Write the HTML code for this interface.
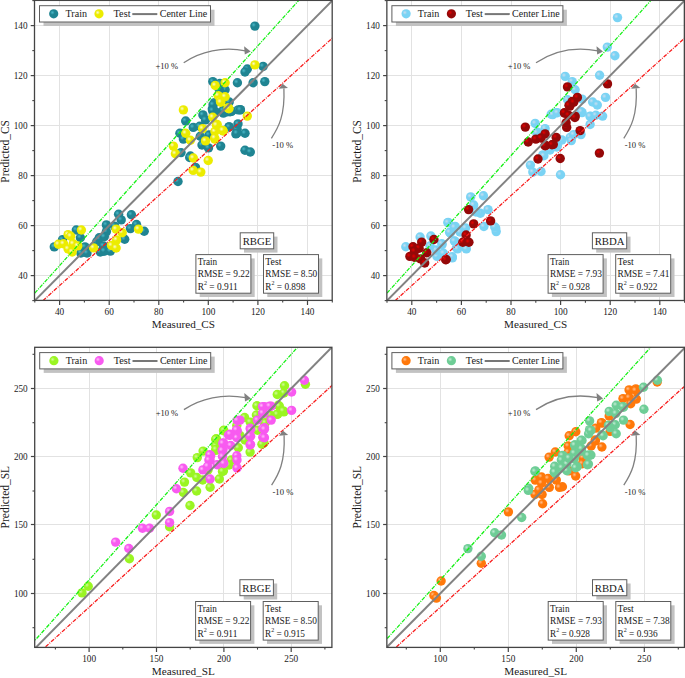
<!DOCTYPE html>
<html><head><meta charset="utf-8"><style>
html,body{margin:0;padding:0;background:#fff;}
svg{display:block;}
text{font-family:"Liberation Serif", serif;fill:#1a1a1a;}
</style></head><body>
<svg width="685" height="678" viewBox="0 0 685 678">
<defs><radialGradient id="g_teal" cx="0.36" cy="0.36" r="0.7" fx="0.36" fy="0.36"><stop offset="0" stop-color="#4bb8c8"/><stop offset="0.35" stop-color="#1f8492"/><stop offset="1" stop-color="#1f8492"/></radialGradient><radialGradient id="g_yellow" cx="0.36" cy="0.36" r="0.7" fx="0.36" fy="0.36"><stop offset="0" stop-color="#fbfbd0"/><stop offset="0.35" stop-color="#ecec00"/><stop offset="1" stop-color="#ecec00"/></radialGradient><radialGradient id="g_lblue" cx="0.36" cy="0.36" r="0.7" fx="0.36" fy="0.36"><stop offset="0" stop-color="#c8def0"/><stop offset="0.35" stop-color="#7ad3f4"/><stop offset="1" stop-color="#7ad3f4"/></radialGradient><radialGradient id="g_dred" cx="0.36" cy="0.36" r="0.7" fx="0.36" fy="0.36"><stop offset="0" stop-color="#e80000"/><stop offset="0.35" stop-color="#950808"/><stop offset="1" stop-color="#950808"/></radialGradient><radialGradient id="g_lgreen" cx="0.36" cy="0.36" r="0.7" fx="0.36" fy="0.36"><stop offset="0" stop-color="#d2fa9c"/><stop offset="0.35" stop-color="#9af522"/><stop offset="1" stop-color="#9af522"/></radialGradient><radialGradient id="g_magenta" cx="0.36" cy="0.36" r="0.7" fx="0.36" fy="0.36"><stop offset="0" stop-color="#ffc0fa"/><stop offset="0.35" stop-color="#f85af0"/><stop offset="1" stop-color="#f85af0"/></radialGradient><radialGradient id="g_orange" cx="0.36" cy="0.36" r="0.7" fx="0.36" fy="0.36"><stop offset="0" stop-color="#ffc090"/><stop offset="0.35" stop-color="#ff780a"/><stop offset="1" stop-color="#ff780a"/></radialGradient><radialGradient id="g_mint" cx="0.36" cy="0.36" r="0.7" fx="0.36" fy="0.36"><stop offset="0" stop-color="#c4ecd6"/><stop offset="0.35" stop-color="#6ecd96"/><stop offset="1" stop-color="#6ecd96"/></radialGradient></defs>
<rect width="685" height="678" fill="#fff"/>
<line x1="59.57" y1="0.4" x2="59.57" y2="300.4" stroke="#e2e2e2" stroke-width="1" shape-rendering="crispEdges"/>
<line x1="34.5" y1="275.60" x2="332.2" y2="275.60" stroke="#e2e2e2" stroke-width="1" shape-rendering="crispEdges"/>
<line x1="109.16" y1="0.4" x2="109.16" y2="300.4" stroke="#e2e2e2" stroke-width="1" shape-rendering="crispEdges"/>
<line x1="34.5" y1="225.60" x2="332.2" y2="225.60" stroke="#e2e2e2" stroke-width="1" shape-rendering="crispEdges"/>
<line x1="158.75" y1="0.4" x2="158.75" y2="300.4" stroke="#e2e2e2" stroke-width="1" shape-rendering="crispEdges"/>
<line x1="34.5" y1="175.60" x2="332.2" y2="175.60" stroke="#e2e2e2" stroke-width="1" shape-rendering="crispEdges"/>
<line x1="208.35" y1="0.4" x2="208.35" y2="300.4" stroke="#e2e2e2" stroke-width="1" shape-rendering="crispEdges"/>
<line x1="34.5" y1="125.60" x2="332.2" y2="125.60" stroke="#e2e2e2" stroke-width="1" shape-rendering="crispEdges"/>
<line x1="257.94" y1="0.4" x2="257.94" y2="300.4" stroke="#e2e2e2" stroke-width="1" shape-rendering="crispEdges"/>
<line x1="34.5" y1="75.60" x2="332.2" y2="75.60" stroke="#e2e2e2" stroke-width="1" shape-rendering="crispEdges"/>
<line x1="307.53" y1="0.4" x2="307.53" y2="300.4" stroke="#e2e2e2" stroke-width="1" shape-rendering="crispEdges"/>
<line x1="34.5" y1="25.60" x2="332.2" y2="25.60" stroke="#e2e2e2" stroke-width="1" shape-rendering="crispEdges"/>
<circle cx="254.9" cy="26.1" r="4.7" fill="url(#g_teal)"/>
<circle cx="263.1" cy="66.4" r="4.7" fill="url(#g_teal)"/>
<circle cx="247.3" cy="69.0" r="4.7" fill="url(#g_teal)"/>
<circle cx="245.0" cy="72.0" r="4.7" fill="url(#g_teal)"/>
<circle cx="212.8" cy="81.6" r="4.7" fill="url(#g_teal)"/>
<circle cx="219.9" cy="83.4" r="4.7" fill="url(#g_teal)"/>
<circle cx="237.4" cy="82.8" r="4.7" fill="url(#g_teal)"/>
<circle cx="253.1" cy="82.8" r="4.7" fill="url(#g_teal)"/>
<circle cx="264.8" cy="81.6" r="4.7" fill="url(#g_teal)"/>
<circle cx="225.1" cy="89.8" r="4.7" fill="url(#g_teal)"/>
<circle cx="219.3" cy="89.8" r="4.7" fill="url(#g_teal)"/>
<circle cx="214.6" cy="102.6" r="4.7" fill="url(#g_teal)"/>
<circle cx="229.2" cy="102.0" r="4.7" fill="url(#g_teal)"/>
<circle cx="212.3" cy="109.0" r="4.7" fill="url(#g_teal)"/>
<circle cx="215.2" cy="111.4" r="4.7" fill="url(#g_teal)"/>
<circle cx="231.5" cy="111.4" r="4.7" fill="url(#g_teal)"/>
<circle cx="223.4" cy="113.1" r="4.7" fill="url(#g_teal)"/>
<circle cx="240.3" cy="109.6" r="4.7" fill="url(#g_teal)"/>
<circle cx="202.9" cy="114.9" r="4.7" fill="url(#g_teal)"/>
<circle cx="185.7" cy="121.0" r="4.7" fill="url(#g_teal)"/>
<circle cx="205.5" cy="119.9" r="4.7" fill="url(#g_teal)"/>
<circle cx="193.3" cy="127.4" r="4.7" fill="url(#g_teal)"/>
<circle cx="199.7" cy="126.3" r="4.7" fill="url(#g_teal)"/>
<circle cx="179.9" cy="133.3" r="4.7" fill="url(#g_teal)"/>
<circle cx="183.4" cy="139.1" r="4.7" fill="url(#g_teal)"/>
<circle cx="200.3" cy="136.2" r="4.7" fill="url(#g_teal)"/>
<circle cx="209.0" cy="135.0" r="4.7" fill="url(#g_teal)"/>
<circle cx="202.0" cy="145.0" r="4.7" fill="url(#g_teal)"/>
<circle cx="208.5" cy="147.9" r="4.7" fill="url(#g_teal)"/>
<circle cx="220.7" cy="146.1" r="4.7" fill="url(#g_teal)"/>
<circle cx="228.9" cy="126.9" r="4.7" fill="url(#g_teal)"/>
<circle cx="237.1" cy="129.2" r="4.7" fill="url(#g_teal)"/>
<circle cx="235.9" cy="133.9" r="4.7" fill="url(#g_teal)"/>
<circle cx="181.0" cy="152.6" r="4.7" fill="url(#g_teal)"/>
<circle cx="190.4" cy="156.0" r="4.7" fill="url(#g_teal)"/>
<circle cx="213.1" cy="104.7" r="4.7" fill="url(#g_teal)"/>
<circle cx="230.1" cy="111.7" r="4.7" fill="url(#g_teal)"/>
<circle cx="223.1" cy="110.5" r="4.7" fill="url(#g_teal)"/>
<circle cx="212.6" cy="110.5" r="4.7" fill="url(#g_teal)"/>
<circle cx="238.2" cy="109.9" r="4.7" fill="url(#g_teal)"/>
<circle cx="240.4" cy="109.9" r="4.7" fill="url(#g_teal)"/>
<circle cx="238.0" cy="123.9" r="4.7" fill="url(#g_teal)"/>
<circle cx="229.3" cy="126.9" r="4.7" fill="url(#g_teal)"/>
<circle cx="236.9" cy="133.3" r="4.7" fill="url(#g_teal)"/>
<circle cx="245.0" cy="133.3" r="4.7" fill="url(#g_teal)"/>
<circle cx="245.0" cy="150.2" r="4.7" fill="url(#g_teal)"/>
<circle cx="250.3" cy="152.0" r="4.7" fill="url(#g_teal)"/>
<circle cx="227.5" cy="111.7" r="4.7" fill="url(#g_teal)"/>
<circle cx="189.7" cy="157.5" r="4.7" fill="url(#g_teal)"/>
<circle cx="195.5" cy="167.4" r="4.7" fill="url(#g_teal)"/>
<circle cx="178.0" cy="181.5" r="4.7" fill="url(#g_teal)"/>
<circle cx="54.3" cy="246.9" r="4.7" fill="url(#g_teal)"/>
<circle cx="62.5" cy="239.7" r="4.7" fill="url(#g_teal)"/>
<circle cx="76.3" cy="230.0" r="4.7" fill="url(#g_teal)"/>
<circle cx="80.4" cy="237.7" r="4.7" fill="url(#g_teal)"/>
<circle cx="85.0" cy="246.9" r="4.7" fill="url(#g_teal)"/>
<circle cx="80.9" cy="253.0" r="4.7" fill="url(#g_teal)"/>
<circle cx="87.0" cy="253.0" r="4.7" fill="url(#g_teal)"/>
<circle cx="99.3" cy="237.7" r="4.7" fill="url(#g_teal)"/>
<circle cx="96.7" cy="241.8" r="4.7" fill="url(#g_teal)"/>
<circle cx="103.4" cy="245.9" r="4.7" fill="url(#g_teal)"/>
<circle cx="106.4" cy="224.9" r="4.7" fill="url(#g_teal)"/>
<circle cx="106.4" cy="231.6" r="4.7" fill="url(#g_teal)"/>
<circle cx="103.4" cy="251.0" r="4.7" fill="url(#g_teal)"/>
<circle cx="100.3" cy="252.0" r="4.7" fill="url(#g_teal)"/>
<circle cx="118.6" cy="214.3" r="4.7" fill="url(#g_teal)"/>
<circle cx="131.4" cy="214.8" r="4.7" fill="url(#g_teal)"/>
<circle cx="121.2" cy="219.9" r="4.7" fill="url(#g_teal)"/>
<circle cx="114.5" cy="226.1" r="4.7" fill="url(#g_teal)"/>
<circle cx="130.4" cy="228.6" r="4.7" fill="url(#g_teal)"/>
<circle cx="136.5" cy="224.5" r="4.7" fill="url(#g_teal)"/>
<circle cx="144.2" cy="231.2" r="4.7" fill="url(#g_teal)"/>
<circle cx="124.7" cy="239.3" r="4.7" fill="url(#g_teal)"/>
<circle cx="104.3" cy="251.1" r="4.7" fill="url(#g_teal)"/>
<circle cx="99.2" cy="238.8" r="4.7" fill="url(#g_teal)"/>
<circle cx="104.3" cy="236.8" r="4.7" fill="url(#g_teal)"/>
<circle cx="110.4" cy="251.1" r="4.7" fill="url(#g_teal)"/>
<circle cx="254.9" cy="64.9" r="4.7" fill="url(#g_yellow)"/>
<circle cx="215.2" cy="85.5" r="4.7" fill="url(#g_yellow)"/>
<circle cx="225.1" cy="82.8" r="4.7" fill="url(#g_yellow)"/>
<circle cx="218.1" cy="95.6" r="4.7" fill="url(#g_yellow)"/>
<circle cx="225.1" cy="96.8" r="4.7" fill="url(#g_yellow)"/>
<circle cx="220.4" cy="100.9" r="4.7" fill="url(#g_yellow)"/>
<circle cx="228.0" cy="107.9" r="4.7" fill="url(#g_yellow)"/>
<circle cx="247.3" cy="116.1" r="4.7" fill="url(#g_yellow)"/>
<circle cx="212.8" cy="117.2" r="4.7" fill="url(#g_yellow)"/>
<circle cx="183.4" cy="109.9" r="4.7" fill="url(#g_yellow)"/>
<circle cx="202.6" cy="128.6" r="4.7" fill="url(#g_yellow)"/>
<circle cx="217.2" cy="124.5" r="4.7" fill="url(#g_yellow)"/>
<circle cx="223.1" cy="131.0" r="4.7" fill="url(#g_yellow)"/>
<circle cx="214.9" cy="131.5" r="4.7" fill="url(#g_yellow)"/>
<circle cx="185.7" cy="133.3" r="4.7" fill="url(#g_yellow)"/>
<circle cx="190.4" cy="140.3" r="4.7" fill="url(#g_yellow)"/>
<circle cx="205.5" cy="140.9" r="4.7" fill="url(#g_yellow)"/>
<circle cx="214.9" cy="139.1" r="4.7" fill="url(#g_yellow)"/>
<circle cx="173.4" cy="146.1" r="4.7" fill="url(#g_yellow)"/>
<circle cx="175.4" cy="153.8" r="4.7" fill="url(#g_yellow)"/>
<circle cx="193.3" cy="158.0" r="4.7" fill="url(#g_yellow)"/>
<circle cx="208.2" cy="160.5" r="4.7" fill="url(#g_yellow)"/>
<circle cx="220.7" cy="102.3" r="4.7" fill="url(#g_yellow)"/>
<circle cx="228.9" cy="108.8" r="4.7" fill="url(#g_yellow)"/>
<circle cx="216.4" cy="125.1" r="4.7" fill="url(#g_yellow)"/>
<circle cx="222.8" cy="130.4" r="4.7" fill="url(#g_yellow)"/>
<circle cx="214.7" cy="138.0" r="4.7" fill="url(#g_yellow)"/>
<circle cx="228.7" cy="108.2" r="4.7" fill="url(#g_yellow)"/>
<circle cx="193.2" cy="170.4" r="4.7" fill="url(#g_yellow)"/>
<circle cx="200.8" cy="172.1" r="4.7" fill="url(#g_yellow)"/>
<circle cx="58.4" cy="244.3" r="4.7" fill="url(#g_yellow)"/>
<circle cx="63.5" cy="243.8" r="4.7" fill="url(#g_yellow)"/>
<circle cx="68.1" cy="234.6" r="4.7" fill="url(#g_yellow)"/>
<circle cx="70.7" cy="236.2" r="4.7" fill="url(#g_yellow)"/>
<circle cx="73.2" cy="243.8" r="4.7" fill="url(#g_yellow)"/>
<circle cx="68.1" cy="248.9" r="4.7" fill="url(#g_yellow)"/>
<circle cx="72.2" cy="252.0" r="4.7" fill="url(#g_yellow)"/>
<circle cx="77.8" cy="245.9" r="4.7" fill="url(#g_yellow)"/>
<circle cx="81.4" cy="230.0" r="4.7" fill="url(#g_yellow)"/>
<circle cx="93.6" cy="247.9" r="4.7" fill="url(#g_yellow)"/>
<circle cx="116.1" cy="229.1" r="4.7" fill="url(#g_yellow)"/>
<circle cx="122.2" cy="232.7" r="4.7" fill="url(#g_yellow)"/>
<circle cx="138.5" cy="229.1" r="4.7" fill="url(#g_yellow)"/>
<circle cx="116.6" cy="239.9" r="4.7" fill="url(#g_yellow)"/>
<circle cx="111.5" cy="245.5" r="4.7" fill="url(#g_yellow)"/>
<circle cx="116.1" cy="248.0" r="4.7" fill="url(#g_yellow)"/>
<clipPath id="clip_tl"><rect x="34.5" y="0.4" width="297.7" height="300.0"/></clipPath>
<line clip-path="url(#clip_tl)" x1="10.0" y1="320.6" x2="321.1" y2="-24.4" stroke="#14f014" stroke-width="1.3" stroke-dasharray="4 1.2 1 1.2"/>
<line clip-path="url(#clip_tl)" x1="15.5" y1="325.6" x2="357.1" y2="15.6" stroke="#f81c1c" stroke-width="1.3" stroke-dasharray="4 1.2 1 1.2"/>
<line clip-path="url(#clip_tl)" x1="10.0" y1="325.6" x2="357.1" y2="-24.4" stroke="#828282" stroke-width="2"/>
<text x="0" y="0" transform="translate(155.50,68.60)" font-size="8.60" text-anchor="start" textLength="22.50" lengthAdjust="spacingAndGlyphs">+10 %</text>
<text x="0" y="0" transform="translate(272.30,148.30)" font-size="8.60" text-anchor="start" textLength="20.80" lengthAdjust="spacingAndGlyphs">-10 %</text>
<path d="M183.7,62.7 C200.5,51.4 222.5,46.4 245.5,50.8" fill="none" stroke="#808080" stroke-width="1.3"/>
<path d="M250.7,51.6 L244.1,46.2 L244.8,54.6 Z" fill="#808080"/>
<path d="M271.4,138.3 C278.5,127.4 285.1,115.4 283.9,88.4" fill="none" stroke="#808080" stroke-width="1.3"/>
<path d="M282.6,83.7 L278.8,88.8 L288.0,88.0 Z" fill="#808080"/>
<rect x="34.5" y="0.4" width="297.7" height="300.0" fill="none" stroke="#444444" stroke-width="1.3"/>
<line x1="59.6" y1="300.4" x2="59.6" y2="305.0" stroke="#444444" stroke-width="1.2"/>
<line x1="34.5" y1="275.6" x2="30.7" y2="275.6" stroke="#444444" stroke-width="1.2"/>
<text x="0" y="0" transform="translate(59.57,315.00)" font-size="9.30" text-anchor="middle">40</text>
<text x="0" y="0" transform="translate(27.50,278.90) scale(0.8696,1)" font-size="10.58" text-anchor="end">40</text>
<line x1="109.2" y1="300.4" x2="109.2" y2="305.0" stroke="#444444" stroke-width="1.2"/>
<line x1="34.5" y1="225.6" x2="30.7" y2="225.6" stroke="#444444" stroke-width="1.2"/>
<text x="0" y="0" transform="translate(109.16,315.00)" font-size="9.30" text-anchor="middle">60</text>
<text x="0" y="0" transform="translate(27.50,228.90) scale(0.8696,1)" font-size="10.58" text-anchor="end">60</text>
<line x1="158.8" y1="300.4" x2="158.8" y2="305.0" stroke="#444444" stroke-width="1.2"/>
<line x1="34.5" y1="175.6" x2="30.7" y2="175.6" stroke="#444444" stroke-width="1.2"/>
<text x="0" y="0" transform="translate(158.75,315.00)" font-size="9.30" text-anchor="middle">80</text>
<text x="0" y="0" transform="translate(27.50,178.90) scale(0.8696,1)" font-size="10.58" text-anchor="end">80</text>
<line x1="208.3" y1="300.4" x2="208.3" y2="305.0" stroke="#444444" stroke-width="1.2"/>
<line x1="34.5" y1="125.6" x2="30.7" y2="125.6" stroke="#444444" stroke-width="1.2"/>
<text x="0" y="0" transform="translate(208.35,315.00)" font-size="9.30" text-anchor="middle">100</text>
<text x="0" y="0" transform="translate(27.50,128.90) scale(0.8696,1)" font-size="10.58" text-anchor="end">100</text>
<line x1="257.9" y1="300.4" x2="257.9" y2="305.0" stroke="#444444" stroke-width="1.2"/>
<line x1="34.5" y1="75.6" x2="30.7" y2="75.6" stroke="#444444" stroke-width="1.2"/>
<text x="0" y="0" transform="translate(257.94,315.00)" font-size="9.30" text-anchor="middle">120</text>
<text x="0" y="0" transform="translate(27.50,78.90) scale(0.8696,1)" font-size="10.58" text-anchor="end">120</text>
<line x1="307.5" y1="300.4" x2="307.5" y2="305.0" stroke="#444444" stroke-width="1.2"/>
<line x1="34.5" y1="25.6" x2="30.7" y2="25.6" stroke="#444444" stroke-width="1.2"/>
<text x="0" y="0" transform="translate(307.53,315.00)" font-size="9.30" text-anchor="middle">140</text>
<text x="0" y="0" transform="translate(27.50,28.90) scale(0.8696,1)" font-size="10.58" text-anchor="end">140</text>
<line x1="34.8" y1="300.4" x2="34.8" y2="302.6" stroke="#444444" stroke-width="1.1"/>
<line x1="34.5" y1="300.6" x2="32.3" y2="300.6" stroke="#444444" stroke-width="1.1"/>
<line x1="84.4" y1="300.4" x2="84.4" y2="302.6" stroke="#444444" stroke-width="1.1"/>
<line x1="34.5" y1="250.6" x2="32.3" y2="250.6" stroke="#444444" stroke-width="1.1"/>
<line x1="134.0" y1="300.4" x2="134.0" y2="302.6" stroke="#444444" stroke-width="1.1"/>
<line x1="34.5" y1="200.6" x2="32.3" y2="200.6" stroke="#444444" stroke-width="1.1"/>
<line x1="183.6" y1="300.4" x2="183.6" y2="302.6" stroke="#444444" stroke-width="1.1"/>
<line x1="34.5" y1="150.6" x2="32.3" y2="150.6" stroke="#444444" stroke-width="1.1"/>
<line x1="233.1" y1="300.4" x2="233.1" y2="302.6" stroke="#444444" stroke-width="1.1"/>
<line x1="34.5" y1="100.6" x2="32.3" y2="100.6" stroke="#444444" stroke-width="1.1"/>
<line x1="282.7" y1="300.4" x2="282.7" y2="302.6" stroke="#444444" stroke-width="1.1"/>
<line x1="34.5" y1="50.6" x2="32.3" y2="50.6" stroke="#444444" stroke-width="1.1"/>
<line x1="332.3" y1="300.4" x2="332.3" y2="302.6" stroke="#444444" stroke-width="1.1"/>
<line x1="34.5" y1="0.6" x2="32.3" y2="0.6" stroke="#444444" stroke-width="1.1"/>
<text x="0" y="0" transform="translate(183.35,328.20)" font-size="11.00" text-anchor="middle" textLength="63.00" lengthAdjust="spacingAndGlyphs">Measured_CS</text>
<text x="0" y="0" transform="translate(9.00,151.40) rotate(-90) scale(0.9259,1)" font-size="11.88" text-anchor="middle" textLength="67.50" lengthAdjust="spacingAndGlyphs">Predicted_CS</text>
<rect x="43.5" y="9.7" width="171" height="16.3" fill="#c2c2c2"/>
<rect x="39.5" y="5.7" width="171" height="16.3" fill="#fff" stroke="#5e5e5e" stroke-width="1"/>
<circle cx="53.7" cy="13.8" r="4.6" fill="url(#g_teal)"/>
<text x="0" y="0" transform="translate(65.50,17.00) scale(0.9091,1)" font-size="11.33" text-anchor="start" textLength="23.65" lengthAdjust="spacingAndGlyphs">Train</text>
<circle cx="99.0" cy="13.8" r="4.6" fill="url(#g_yellow)"/>
<text x="0" y="0" transform="translate(113.50,17.00) scale(0.9091,1)" font-size="11.33" text-anchor="start" textLength="18.70" lengthAdjust="spacingAndGlyphs">Test</text>
<line x1="132.3" y1="14.1" x2="157.3" y2="14.1" stroke="#777777" stroke-width="2"/>
<text x="0" y="0" transform="translate(159.70,17.00) scale(0.9091,1)" font-size="11.33" text-anchor="start" textLength="52.36" lengthAdjust="spacingAndGlyphs">Center Line</text>
<rect x="244.0" y="236.6" width="33.5" height="16" fill="#c2c2c2"/>
<rect x="240.2" y="232.8" width="33.5" height="16" fill="#fff" stroke="#5e5e5e" stroke-width="1"/>
<text x="0" y="0" transform="translate(256.95,244.60) scale(0.9524,1)" font-size="11.23" text-anchor="middle" textLength="30.03" lengthAdjust="spacingAndGlyphs">RBGE</text>
<rect x="199.7" y="258.4" width="55" height="38.6" fill="#c2c2c2"/>
<rect x="195.9" y="254.6" width="55" height="38.6" fill="#fff" stroke="#5e5e5e" stroke-width="1"/>
<text x="0" y="0" transform="translate(197.70,265.40)" font-size="9.60" text-anchor="start" textLength="19.50" lengthAdjust="spacingAndGlyphs">Train</text>
<text x="0" y="0" transform="translate(197.70,277.00)" font-size="9.60" text-anchor="start" textLength="52.00" lengthAdjust="spacingAndGlyphs">RMSE = 9.22</text>
<text x="197.70" y="289.80" font-size="9.6" textLength="40" lengthAdjust="spacingAndGlyphs">R<tspan font-size="6.2" dy="-4.6">2</tspan><tspan dy="4.6"> = 0.911</tspan></text>
<rect x="267.3" y="258.4" width="55" height="38.6" fill="#c2c2c2"/>
<rect x="263.5" y="254.6" width="55" height="38.6" fill="#fff" stroke="#5e5e5e" stroke-width="1"/>
<text x="0" y="0" transform="translate(265.30,265.40)" font-size="9.60" text-anchor="start" textLength="16.20" lengthAdjust="spacingAndGlyphs">Test</text>
<text x="0" y="0" transform="translate(265.30,277.00)" font-size="9.60" text-anchor="start" textLength="52.00" lengthAdjust="spacingAndGlyphs">RMSE = 8.50</text>
<text x="265.30" y="289.80" font-size="9.6" textLength="40" lengthAdjust="spacingAndGlyphs">R<tspan font-size="6.2" dy="-4.6">2</tspan><tspan dy="4.6"> = 0.898</tspan></text>
<line x1="411.82" y1="0.4" x2="411.82" y2="300.5" stroke="#e2e2e2" stroke-width="1" shape-rendering="crispEdges"/>
<line x1="386.9" y1="275.60" x2="684.4" y2="275.60" stroke="#e2e2e2" stroke-width="1" shape-rendering="crispEdges"/>
<line x1="461.41" y1="0.4" x2="461.41" y2="300.5" stroke="#e2e2e2" stroke-width="1" shape-rendering="crispEdges"/>
<line x1="386.9" y1="225.60" x2="684.4" y2="225.60" stroke="#e2e2e2" stroke-width="1" shape-rendering="crispEdges"/>
<line x1="511.00" y1="0.4" x2="511.00" y2="300.5" stroke="#e2e2e2" stroke-width="1" shape-rendering="crispEdges"/>
<line x1="386.9" y1="175.60" x2="684.4" y2="175.60" stroke="#e2e2e2" stroke-width="1" shape-rendering="crispEdges"/>
<line x1="560.60" y1="0.4" x2="560.60" y2="300.5" stroke="#e2e2e2" stroke-width="1" shape-rendering="crispEdges"/>
<line x1="386.9" y1="125.60" x2="684.4" y2="125.60" stroke="#e2e2e2" stroke-width="1" shape-rendering="crispEdges"/>
<line x1="610.19" y1="0.4" x2="610.19" y2="300.5" stroke="#e2e2e2" stroke-width="1" shape-rendering="crispEdges"/>
<line x1="386.9" y1="75.60" x2="684.4" y2="75.60" stroke="#e2e2e2" stroke-width="1" shape-rendering="crispEdges"/>
<line x1="659.78" y1="0.4" x2="659.78" y2="300.5" stroke="#e2e2e2" stroke-width="1" shape-rendering="crispEdges"/>
<line x1="386.9" y1="25.60" x2="684.4" y2="25.60" stroke="#e2e2e2" stroke-width="1" shape-rendering="crispEdges"/>
<circle cx="617.5" cy="17.6" r="4.7" fill="url(#g_lblue)"/>
<circle cx="607.3" cy="47.1" r="4.7" fill="url(#g_lblue)"/>
<circle cx="614.9" cy="55.8" r="4.7" fill="url(#g_lblue)"/>
<circle cx="565.2" cy="76.4" r="4.7" fill="url(#g_lblue)"/>
<circle cx="572.2" cy="81.6" r="4.7" fill="url(#g_lblue)"/>
<circle cx="575.1" cy="89.8" r="4.7" fill="url(#g_lblue)"/>
<circle cx="599.6" cy="75.2" r="4.7" fill="url(#g_lblue)"/>
<circle cx="605.5" cy="97.4" r="4.7" fill="url(#g_lblue)"/>
<circle cx="567.5" cy="99.7" r="4.7" fill="url(#g_lblue)"/>
<circle cx="592.6" cy="102.0" r="4.7" fill="url(#g_lblue)"/>
<circle cx="597.3" cy="105.0" r="4.7" fill="url(#g_lblue)"/>
<circle cx="582.1" cy="99.1" r="4.7" fill="url(#g_lblue)"/>
<circle cx="582.1" cy="112.6" r="4.7" fill="url(#g_lblue)"/>
<circle cx="555.8" cy="112.6" r="4.7" fill="url(#g_lblue)"/>
<circle cx="551.2" cy="114.3" r="4.7" fill="url(#g_lblue)"/>
<circle cx="590.3" cy="116.1" r="4.7" fill="url(#g_lblue)"/>
<circle cx="602.6" cy="116.1" r="4.7" fill="url(#g_lblue)"/>
<circle cx="535.2" cy="123.4" r="4.7" fill="url(#g_lblue)"/>
<circle cx="552.7" cy="114.6" r="4.7" fill="url(#g_lblue)"/>
<circle cx="557.4" cy="112.8" r="4.7" fill="url(#g_lblue)"/>
<circle cx="581.3" cy="111.7" r="4.7" fill="url(#g_lblue)"/>
<circle cx="590.1" cy="116.4" r="4.7" fill="url(#g_lblue)"/>
<circle cx="590.1" cy="124.5" r="4.7" fill="url(#g_lblue)"/>
<circle cx="595.9" cy="115.2" r="4.7" fill="url(#g_lblue)"/>
<circle cx="570.2" cy="137.4" r="4.7" fill="url(#g_lblue)"/>
<circle cx="573.7" cy="134.6" r="4.7" fill="url(#g_lblue)"/>
<circle cx="581.0" cy="134.6" r="4.7" fill="url(#g_lblue)"/>
<circle cx="545.1" cy="128.6" r="4.7" fill="url(#g_lblue)"/>
<circle cx="537.5" cy="132.1" r="4.7" fill="url(#g_lblue)"/>
<circle cx="557.4" cy="145.5" r="4.7" fill="url(#g_lblue)"/>
<circle cx="542.8" cy="154.9" r="4.7" fill="url(#g_lblue)"/>
<circle cx="543.9" cy="155.8" r="4.7" fill="url(#g_lblue)"/>
<circle cx="530.4" cy="165.1" r="4.7" fill="url(#g_lblue)"/>
<circle cx="532.8" cy="172.1" r="4.7" fill="url(#g_lblue)"/>
<circle cx="541.0" cy="171.5" r="4.7" fill="url(#g_lblue)"/>
<circle cx="560.5" cy="174.8" r="4.7" fill="url(#g_lblue)"/>
<circle cx="556.7" cy="147.0" r="4.7" fill="url(#g_lblue)"/>
<circle cx="571.3" cy="140.6" r="4.7" fill="url(#g_lblue)"/>
<circle cx="536.8" cy="132.9" r="4.7" fill="url(#g_lblue)"/>
<circle cx="562.0" cy="140.0" r="4.7" fill="url(#g_lblue)"/>
<circle cx="550.0" cy="150.0" r="4.7" fill="url(#g_lblue)"/>
<circle cx="470.7" cy="196.9" r="4.7" fill="url(#g_lblue)"/>
<circle cx="483.4" cy="195.8" r="4.7" fill="url(#g_lblue)"/>
<circle cx="473.7" cy="205.0" r="4.7" fill="url(#g_lblue)"/>
<circle cx="480.4" cy="213.2" r="4.7" fill="url(#g_lblue)"/>
<circle cx="488.0" cy="209.6" r="4.7" fill="url(#g_lblue)"/>
<circle cx="476.0" cy="212.0" r="4.7" fill="url(#g_lblue)"/>
<circle cx="483.9" cy="226.5" r="4.7" fill="url(#g_lblue)"/>
<circle cx="495.7" cy="228.0" r="4.7" fill="url(#g_lblue)"/>
<circle cx="496.2" cy="231.6" r="4.7" fill="url(#g_lblue)"/>
<circle cx="448.2" cy="222.4" r="4.7" fill="url(#g_lblue)"/>
<circle cx="455.3" cy="226.5" r="4.7" fill="url(#g_lblue)"/>
<circle cx="450.2" cy="232.6" r="4.7" fill="url(#g_lblue)"/>
<circle cx="465.5" cy="228.0" r="4.7" fill="url(#g_lblue)"/>
<circle cx="460.0" cy="232.0" r="4.7" fill="url(#g_lblue)"/>
<circle cx="405.8" cy="246.7" r="4.7" fill="url(#g_lblue)"/>
<circle cx="420.1" cy="237.0" r="4.7" fill="url(#g_lblue)"/>
<circle cx="430.9" cy="236.0" r="4.7" fill="url(#g_lblue)"/>
<circle cx="442.1" cy="244.6" r="4.7" fill="url(#g_lblue)"/>
<circle cx="437.0" cy="256.4" r="4.7" fill="url(#g_lblue)"/>
<circle cx="452.3" cy="257.9" r="4.7" fill="url(#g_lblue)"/>
<circle cx="436.0" cy="250.0" r="4.7" fill="url(#g_lblue)"/>
<circle cx="430.0" cy="246.0" r="4.7" fill="url(#g_lblue)"/>
<circle cx="454.4" cy="227.3" r="4.7" fill="url(#g_lblue)"/>
<circle cx="450.3" cy="232.9" r="4.7" fill="url(#g_lblue)"/>
<circle cx="454.9" cy="241.1" r="4.7" fill="url(#g_lblue)"/>
<circle cx="456.4" cy="247.7" r="4.7" fill="url(#g_lblue)"/>
<circle cx="494.7" cy="227.0" r="4.7" fill="url(#g_lblue)"/>
<circle cx="449.6" cy="232.3" r="4.7" fill="url(#g_lblue)"/>
<circle cx="447.9" cy="222.6" r="4.7" fill="url(#g_lblue)"/>
<circle cx="457.5" cy="248.9" r="4.7" fill="url(#g_lblue)"/>
<circle cx="466.3" cy="248.9" r="4.7" fill="url(#g_lblue)"/>
<circle cx="441.8" cy="243.6" r="4.7" fill="url(#g_lblue)"/>
<circle cx="443.5" cy="253.3" r="4.7" fill="url(#g_lblue)"/>
<circle cx="452.3" cy="256.8" r="4.7" fill="url(#g_lblue)"/>
<circle cx="454.4" cy="241.0" r="4.7" fill="url(#g_lblue)"/>
<circle cx="567.5" cy="86.9" r="4.7" fill="url(#g_dred)"/>
<circle cx="607.5" cy="83.9" r="4.7" fill="url(#g_dred)"/>
<circle cx="577.4" cy="97.4" r="4.7" fill="url(#g_dred)"/>
<circle cx="572.2" cy="101.5" r="4.7" fill="url(#g_dred)"/>
<circle cx="569.9" cy="106.1" r="4.7" fill="url(#g_dred)"/>
<circle cx="564.6" cy="113.1" r="4.7" fill="url(#g_dred)"/>
<circle cx="575.1" cy="116.1" r="4.7" fill="url(#g_dred)"/>
<circle cx="525.3" cy="127.1" r="4.7" fill="url(#g_dred)"/>
<circle cx="564.4" cy="112.8" r="4.7" fill="url(#g_dred)"/>
<circle cx="569.0" cy="105.3" r="4.7" fill="url(#g_dred)"/>
<circle cx="573.7" cy="102.3" r="4.7" fill="url(#g_dred)"/>
<circle cx="568.5" cy="115.2" r="4.7" fill="url(#g_dred)"/>
<circle cx="574.9" cy="117.5" r="4.7" fill="url(#g_dred)"/>
<circle cx="566.7" cy="127.4" r="4.7" fill="url(#g_dred)"/>
<circle cx="566.1" cy="122.8" r="4.7" fill="url(#g_dred)"/>
<circle cx="580.1" cy="130.6" r="4.7" fill="url(#g_dred)"/>
<circle cx="545.1" cy="133.9" r="4.7" fill="url(#g_dred)"/>
<circle cx="535.8" cy="139.1" r="4.7" fill="url(#g_dred)"/>
<circle cx="528.2" cy="142.0" r="4.7" fill="url(#g_dred)"/>
<circle cx="541.0" cy="138.0" r="4.7" fill="url(#g_dred)"/>
<circle cx="545.7" cy="145.5" r="4.7" fill="url(#g_dred)"/>
<circle cx="553.3" cy="144.4" r="4.7" fill="url(#g_dred)"/>
<circle cx="556.2" cy="137.4" r="4.7" fill="url(#g_dred)"/>
<circle cx="552.0" cy="144.7" r="4.7" fill="url(#g_dred)"/>
<circle cx="545.0" cy="145.8" r="4.7" fill="url(#g_dred)"/>
<circle cx="538.0" cy="159.0" r="4.7" fill="url(#g_dred)"/>
<circle cx="560.2" cy="158.5" r="4.7" fill="url(#g_dred)"/>
<circle cx="599.4" cy="153.1" r="4.7" fill="url(#g_dred)"/>
<circle cx="468.6" cy="209.6" r="4.7" fill="url(#g_dred)"/>
<circle cx="490.6" cy="220.9" r="4.7" fill="url(#g_dred)"/>
<circle cx="473.7" cy="223.9" r="4.7" fill="url(#g_dred)"/>
<circle cx="466.1" cy="235.0" r="4.7" fill="url(#g_dred)"/>
<circle cx="462.8" cy="242.3" r="4.7" fill="url(#g_dred)"/>
<circle cx="468.9" cy="242.3" r="4.7" fill="url(#g_dred)"/>
<circle cx="433.9" cy="239.5" r="4.7" fill="url(#g_dred)"/>
<circle cx="421.7" cy="242.1" r="4.7" fill="url(#g_dred)"/>
<circle cx="413.0" cy="246.7" r="4.7" fill="url(#g_dred)"/>
<circle cx="419.1" cy="248.2" r="4.7" fill="url(#g_dred)"/>
<circle cx="414.5" cy="251.3" r="4.7" fill="url(#g_dred)"/>
<circle cx="409.9" cy="256.4" r="4.7" fill="url(#g_dred)"/>
<circle cx="415.0" cy="257.4" r="4.7" fill="url(#g_dred)"/>
<circle cx="420.7" cy="258.9" r="4.7" fill="url(#g_dred)"/>
<circle cx="424.7" cy="263.0" r="4.7" fill="url(#g_dred)"/>
<circle cx="426.8" cy="252.8" r="4.7" fill="url(#g_dred)"/>
<circle cx="446.2" cy="259.5" r="4.7" fill="url(#g_dred)"/>
<circle cx="445.7" cy="259.8" r="4.7" fill="url(#g_dred)"/>
<clipPath id="clip_tr"><rect x="386.85" y="0.4" width="297.54999999999995" height="300.1"/></clipPath>
<line clip-path="url(#clip_tr)" x1="362.2" y1="320.6" x2="673.3" y2="-24.4" stroke="#14f014" stroke-width="1.3" stroke-dasharray="4 1.2 1 1.2"/>
<line clip-path="url(#clip_tr)" x1="367.7" y1="325.6" x2="709.4" y2="15.6" stroke="#f81c1c" stroke-width="1.3" stroke-dasharray="4 1.2 1 1.2"/>
<line clip-path="url(#clip_tr)" x1="362.2" y1="325.6" x2="709.4" y2="-24.4" stroke="#828282" stroke-width="2"/>
<text x="0" y="0" transform="translate(507.85,68.60)" font-size="8.60" text-anchor="start" textLength="22.50" lengthAdjust="spacingAndGlyphs">+10 %</text>
<text x="0" y="0" transform="translate(624.65,148.30)" font-size="8.60" text-anchor="start" textLength="20.80" lengthAdjust="spacingAndGlyphs">-10 %</text>
<path d="M536.0,62.7 C552.9,51.4 574.9,46.4 597.9,50.8" fill="none" stroke="#808080" stroke-width="1.3"/>
<path d="M603.0,51.6 L596.5,46.2 L597.2,54.6 Z" fill="#808080"/>
<path d="M623.8,138.3 C630.9,127.4 637.5,115.4 636.2,88.4" fill="none" stroke="#808080" stroke-width="1.3"/>
<path d="M635.0,83.7 L631.2,88.8 L640.4,88.0 Z" fill="#808080"/>
<rect x="386.85" y="0.4" width="297.5" height="300.1" fill="none" stroke="#444444" stroke-width="1.3"/>
<line x1="411.8" y1="300.5" x2="411.8" y2="305.1" stroke="#444444" stroke-width="1.2"/>
<line x1="386.9" y1="275.6" x2="383.1" y2="275.6" stroke="#444444" stroke-width="1.2"/>
<text x="0" y="0" transform="translate(411.82,315.10)" font-size="9.30" text-anchor="middle">40</text>
<text x="0" y="0" transform="translate(379.85,278.90) scale(0.8696,1)" font-size="10.58" text-anchor="end">40</text>
<line x1="461.4" y1="300.5" x2="461.4" y2="305.1" stroke="#444444" stroke-width="1.2"/>
<line x1="386.9" y1="225.6" x2="383.1" y2="225.6" stroke="#444444" stroke-width="1.2"/>
<text x="0" y="0" transform="translate(461.41,315.10)" font-size="9.30" text-anchor="middle">60</text>
<text x="0" y="0" transform="translate(379.85,228.90) scale(0.8696,1)" font-size="10.58" text-anchor="end">60</text>
<line x1="511.0" y1="300.5" x2="511.0" y2="305.1" stroke="#444444" stroke-width="1.2"/>
<line x1="386.9" y1="175.6" x2="383.1" y2="175.6" stroke="#444444" stroke-width="1.2"/>
<text x="0" y="0" transform="translate(511.00,315.10)" font-size="9.30" text-anchor="middle">80</text>
<text x="0" y="0" transform="translate(379.85,178.90) scale(0.8696,1)" font-size="10.58" text-anchor="end">80</text>
<line x1="560.6" y1="300.5" x2="560.6" y2="305.1" stroke="#444444" stroke-width="1.2"/>
<line x1="386.9" y1="125.6" x2="383.1" y2="125.6" stroke="#444444" stroke-width="1.2"/>
<text x="0" y="0" transform="translate(560.60,315.10)" font-size="9.30" text-anchor="middle">100</text>
<text x="0" y="0" transform="translate(379.85,128.90) scale(0.8696,1)" font-size="10.58" text-anchor="end">100</text>
<line x1="610.2" y1="300.5" x2="610.2" y2="305.1" stroke="#444444" stroke-width="1.2"/>
<line x1="386.9" y1="75.6" x2="383.1" y2="75.6" stroke="#444444" stroke-width="1.2"/>
<text x="0" y="0" transform="translate(610.19,315.10)" font-size="9.30" text-anchor="middle">120</text>
<text x="0" y="0" transform="translate(379.85,78.90) scale(0.8696,1)" font-size="10.58" text-anchor="end">120</text>
<line x1="659.8" y1="300.5" x2="659.8" y2="305.1" stroke="#444444" stroke-width="1.2"/>
<line x1="386.9" y1="25.6" x2="383.1" y2="25.6" stroke="#444444" stroke-width="1.2"/>
<text x="0" y="0" transform="translate(659.78,315.10)" font-size="9.30" text-anchor="middle">140</text>
<text x="0" y="0" transform="translate(379.85,28.90) scale(0.8696,1)" font-size="10.58" text-anchor="end">140</text>
<line x1="387.0" y1="300.5" x2="387.0" y2="302.7" stroke="#444444" stroke-width="1.1"/>
<line x1="386.9" y1="300.6" x2="384.7" y2="300.6" stroke="#444444" stroke-width="1.1"/>
<line x1="436.6" y1="300.5" x2="436.6" y2="302.7" stroke="#444444" stroke-width="1.1"/>
<line x1="386.9" y1="250.6" x2="384.7" y2="250.6" stroke="#444444" stroke-width="1.1"/>
<line x1="486.2" y1="300.5" x2="486.2" y2="302.7" stroke="#444444" stroke-width="1.1"/>
<line x1="386.9" y1="200.6" x2="384.7" y2="200.6" stroke="#444444" stroke-width="1.1"/>
<line x1="535.8" y1="300.5" x2="535.8" y2="302.7" stroke="#444444" stroke-width="1.1"/>
<line x1="386.9" y1="150.6" x2="384.7" y2="150.6" stroke="#444444" stroke-width="1.1"/>
<line x1="585.4" y1="300.5" x2="585.4" y2="302.7" stroke="#444444" stroke-width="1.1"/>
<line x1="386.9" y1="100.6" x2="384.7" y2="100.6" stroke="#444444" stroke-width="1.1"/>
<line x1="635.0" y1="300.5" x2="635.0" y2="302.7" stroke="#444444" stroke-width="1.1"/>
<line x1="386.9" y1="50.6" x2="384.7" y2="50.6" stroke="#444444" stroke-width="1.1"/>
<line x1="684.6" y1="300.5" x2="684.6" y2="302.7" stroke="#444444" stroke-width="1.1"/>
<line x1="386.9" y1="0.6" x2="384.7" y2="0.6" stroke="#444444" stroke-width="1.1"/>
<text x="0" y="0" transform="translate(535.62,328.30)" font-size="11.00" text-anchor="middle" textLength="63.00" lengthAdjust="spacingAndGlyphs">Measured_CS</text>
<text x="0" y="0" transform="translate(361.35,151.45) rotate(-90) scale(0.9259,1)" font-size="11.88" text-anchor="middle" textLength="67.50" lengthAdjust="spacingAndGlyphs">Predicted_CS</text>
<rect x="395.9" y="9.7" width="171" height="16.3" fill="#c2c2c2"/>
<rect x="391.9" y="5.7" width="171" height="16.3" fill="#fff" stroke="#5e5e5e" stroke-width="1"/>
<circle cx="406.1" cy="13.8" r="4.6" fill="url(#g_lblue)"/>
<text x="0" y="0" transform="translate(417.85,17.00) scale(0.9091,1)" font-size="11.33" text-anchor="start" textLength="23.65" lengthAdjust="spacingAndGlyphs">Train</text>
<circle cx="451.4" cy="13.8" r="4.6" fill="url(#g_dred)"/>
<text x="0" y="0" transform="translate(465.85,17.00) scale(0.9091,1)" font-size="11.33" text-anchor="start" textLength="18.70" lengthAdjust="spacingAndGlyphs">Test</text>
<line x1="484.7" y1="14.1" x2="509.7" y2="14.1" stroke="#777777" stroke-width="2"/>
<text x="0" y="0" transform="translate(512.05,17.00) scale(0.9091,1)" font-size="11.33" text-anchor="start" textLength="52.36" lengthAdjust="spacingAndGlyphs">Center Line</text>
<rect x="596.2" y="236.6" width="34.3" height="16" fill="#c2c2c2"/>
<rect x="592.4" y="232.8" width="34.3" height="16" fill="#fff" stroke="#5e5e5e" stroke-width="1"/>
<text x="0" y="0" transform="translate(609.55,244.60) scale(0.9524,1)" font-size="11.23" text-anchor="middle" textLength="31.29" lengthAdjust="spacingAndGlyphs">RBDA</text>
<rect x="551.9" y="258.4" width="55" height="38.6" fill="#c2c2c2"/>
<rect x="548.1" y="254.6" width="55" height="38.6" fill="#fff" stroke="#5e5e5e" stroke-width="1"/>
<text x="0" y="0" transform="translate(549.90,265.40)" font-size="9.60" text-anchor="start" textLength="19.50" lengthAdjust="spacingAndGlyphs">Train</text>
<text x="0" y="0" transform="translate(549.90,277.00)" font-size="9.60" text-anchor="start" textLength="52.00" lengthAdjust="spacingAndGlyphs">RMSE = 7.93</text>
<text x="549.90" y="289.80" font-size="9.6" textLength="40" lengthAdjust="spacingAndGlyphs">R<tspan font-size="6.2" dy="-4.6">2</tspan><tspan dy="4.6"> = 0.928</tspan></text>
<rect x="619.5" y="258.4" width="55" height="38.6" fill="#c2c2c2"/>
<rect x="615.7" y="254.6" width="55" height="38.6" fill="#fff" stroke="#5e5e5e" stroke-width="1"/>
<text x="0" y="0" transform="translate(617.50,265.40)" font-size="9.60" text-anchor="start" textLength="16.20" lengthAdjust="spacingAndGlyphs">Test</text>
<text x="0" y="0" transform="translate(617.50,277.00)" font-size="9.60" text-anchor="start" textLength="52.00" lengthAdjust="spacingAndGlyphs">RMSE = 7.41</text>
<text x="617.50" y="289.80" font-size="9.6" textLength="40" lengthAdjust="spacingAndGlyphs">R<tspan font-size="6.2" dy="-4.6">2</tspan><tspan dy="4.6"> = 0.922</tspan></text>
<line x1="89.12" y1="347.3" x2="89.12" y2="647.4" stroke="#e2e2e2" stroke-width="1" shape-rendering="crispEdges"/>
<line x1="34.7" y1="593.50" x2="331.9" y2="593.50" stroke="#e2e2e2" stroke-width="1" shape-rendering="crispEdges"/>
<line x1="156.49" y1="347.3" x2="156.49" y2="647.4" stroke="#e2e2e2" stroke-width="1" shape-rendering="crispEdges"/>
<line x1="34.7" y1="524.50" x2="331.9" y2="524.50" stroke="#e2e2e2" stroke-width="1" shape-rendering="crispEdges"/>
<line x1="223.86" y1="347.3" x2="223.86" y2="647.4" stroke="#e2e2e2" stroke-width="1" shape-rendering="crispEdges"/>
<line x1="34.7" y1="456.50" x2="331.9" y2="456.50" stroke="#e2e2e2" stroke-width="1" shape-rendering="crispEdges"/>
<line x1="291.23" y1="347.3" x2="291.23" y2="647.4" stroke="#e2e2e2" stroke-width="1" shape-rendering="crispEdges"/>
<line x1="34.7" y1="388.50" x2="331.9" y2="388.50" stroke="#e2e2e2" stroke-width="1" shape-rendering="crispEdges"/>
<circle cx="284.5" cy="385.8" r="4.7" fill="url(#g_lgreen)"/>
<circle cx="283.9" cy="393.0" r="4.7" fill="url(#g_lgreen)"/>
<circle cx="277.3" cy="394.5" r="4.7" fill="url(#g_lgreen)"/>
<circle cx="305.4" cy="384.3" r="4.7" fill="url(#g_lgreen)"/>
<circle cx="256.9" cy="405.8" r="4.7" fill="url(#g_lgreen)"/>
<circle cx="278.3" cy="405.3" r="4.7" fill="url(#g_lgreen)"/>
<circle cx="277.8" cy="413.9" r="4.7" fill="url(#g_lgreen)"/>
<circle cx="283.9" cy="411.9" r="4.7" fill="url(#g_lgreen)"/>
<circle cx="256.4" cy="415.0" r="4.7" fill="url(#g_lgreen)"/>
<circle cx="244.6" cy="417.5" r="4.7" fill="url(#g_lgreen)"/>
<circle cx="250.2" cy="422.1" r="4.7" fill="url(#g_lgreen)"/>
<circle cx="264.5" cy="423.1" r="4.7" fill="url(#g_lgreen)"/>
<circle cx="265.3" cy="422.8" r="4.7" fill="url(#g_lgreen)"/>
<circle cx="263.5" cy="442.9" r="4.7" fill="url(#g_lgreen)"/>
<circle cx="279.3" cy="406.1" r="4.7" fill="url(#g_lgreen)"/>
<circle cx="277.1" cy="414.4" r="4.7" fill="url(#g_lgreen)"/>
<circle cx="283.2" cy="410.9" r="4.7" fill="url(#g_lgreen)"/>
<circle cx="223.5" cy="430.7" r="4.7" fill="url(#g_lgreen)"/>
<circle cx="236.8" cy="425.5" r="4.7" fill="url(#g_lgreen)"/>
<circle cx="216.4" cy="438.8" r="4.7" fill="url(#g_lgreen)"/>
<circle cx="216.4" cy="446.0" r="4.7" fill="url(#g_lgreen)"/>
<circle cx="203.1" cy="451.1" r="4.7" fill="url(#g_lgreen)"/>
<circle cx="250.1" cy="452.1" r="4.7" fill="url(#g_lgreen)"/>
<circle cx="263.9" cy="442.9" r="4.7" fill="url(#g_lgreen)"/>
<circle cx="261.9" cy="444.3" r="4.7" fill="url(#g_lgreen)"/>
<circle cx="197.3" cy="457.6" r="4.7" fill="url(#g_lgreen)"/>
<circle cx="190.7" cy="472.9" r="4.7" fill="url(#g_lgreen)"/>
<circle cx="196.8" cy="477.5" r="4.7" fill="url(#g_lgreen)"/>
<circle cx="184.5" cy="482.1" r="4.7" fill="url(#g_lgreen)"/>
<circle cx="210.1" cy="487.2" r="4.7" fill="url(#g_lgreen)"/>
<circle cx="219.3" cy="479.0" r="4.7" fill="url(#g_lgreen)"/>
<circle cx="223.4" cy="470.9" r="4.7" fill="url(#g_lgreen)"/>
<circle cx="215.7" cy="445.3" r="4.7" fill="url(#g_lgreen)"/>
<circle cx="215.7" cy="439.2" r="4.7" fill="url(#g_lgreen)"/>
<circle cx="215.7" cy="450.4" r="4.7" fill="url(#g_lgreen)"/>
<circle cx="215.9" cy="449.5" r="4.7" fill="url(#g_lgreen)"/>
<circle cx="223.8" cy="430.3" r="4.7" fill="url(#g_lgreen)"/>
<circle cx="240.0" cy="435.5" r="4.7" fill="url(#g_lgreen)"/>
<circle cx="238.3" cy="447.8" r="4.7" fill="url(#g_lgreen)"/>
<circle cx="231.3" cy="460.0" r="4.7" fill="url(#g_lgreen)"/>
<circle cx="257.5" cy="430.3" r="4.7" fill="url(#g_lgreen)"/>
<circle cx="222.5" cy="471.4" r="4.7" fill="url(#g_lgreen)"/>
<circle cx="208.0" cy="470.0" r="4.7" fill="url(#g_lgreen)"/>
<circle cx="229.0" cy="465.0" r="4.7" fill="url(#g_lgreen)"/>
<circle cx="245.0" cy="440.0" r="4.7" fill="url(#g_lgreen)"/>
<circle cx="270.0" cy="415.0" r="4.7" fill="url(#g_lgreen)"/>
<circle cx="183.4" cy="492.5" r="4.7" fill="url(#g_lgreen)"/>
<circle cx="190.0" cy="505.5" r="4.7" fill="url(#g_lgreen)"/>
<circle cx="156.3" cy="515.0" r="4.7" fill="url(#g_lgreen)"/>
<circle cx="169.6" cy="526.7" r="4.7" fill="url(#g_lgreen)"/>
<circle cx="129.4" cy="558.8" r="4.7" fill="url(#g_lgreen)"/>
<circle cx="88.2" cy="586.3" r="4.7" fill="url(#g_lgreen)"/>
<circle cx="82.0" cy="592.9" r="4.7" fill="url(#g_lgreen)"/>
<circle cx="196.6" cy="491.0" r="4.7" fill="url(#g_lgreen)"/>
<circle cx="202.7" cy="480.0" r="4.7" fill="url(#g_lgreen)"/>
<circle cx="304.4" cy="380.2" r="4.7" fill="url(#g_magenta)"/>
<circle cx="291.6" cy="392.0" r="4.7" fill="url(#g_magenta)"/>
<circle cx="264.5" cy="406.8" r="4.7" fill="url(#g_magenta)"/>
<circle cx="271.2" cy="406.3" r="4.7" fill="url(#g_magenta)"/>
<circle cx="291.6" cy="410.4" r="4.7" fill="url(#g_magenta)"/>
<circle cx="264.0" cy="413.4" r="4.7" fill="url(#g_magenta)"/>
<circle cx="257.4" cy="420.1" r="4.7" fill="url(#g_magenta)"/>
<circle cx="271.2" cy="420.1" r="4.7" fill="url(#g_magenta)"/>
<circle cx="264.5" cy="427.7" r="4.7" fill="url(#g_magenta)"/>
<circle cx="250.2" cy="428.2" r="4.7" fill="url(#g_magenta)"/>
<circle cx="240.0" cy="420.1" r="4.7" fill="url(#g_magenta)"/>
<circle cx="237.3" cy="420.4" r="4.7" fill="url(#g_magenta)"/>
<circle cx="230.1" cy="435.3" r="4.7" fill="url(#g_magenta)"/>
<circle cx="237.3" cy="430.7" r="4.7" fill="url(#g_magenta)"/>
<circle cx="236.8" cy="437.8" r="4.7" fill="url(#g_magenta)"/>
<circle cx="250.6" cy="436.3" r="4.7" fill="url(#g_magenta)"/>
<circle cx="263.9" cy="437.3" r="4.7" fill="url(#g_magenta)"/>
<circle cx="250.1" cy="445.0" r="4.7" fill="url(#g_magenta)"/>
<circle cx="223.5" cy="442.9" r="4.7" fill="url(#g_magenta)"/>
<circle cx="230.7" cy="445.5" r="4.7" fill="url(#g_magenta)"/>
<circle cx="223.0" cy="449.6" r="4.7" fill="url(#g_magenta)"/>
<circle cx="210.7" cy="455.7" r="4.7" fill="url(#g_magenta)"/>
<circle cx="236.8" cy="455.7" r="4.7" fill="url(#g_magenta)"/>
<circle cx="210.1" cy="460.1" r="4.7" fill="url(#g_magenta)"/>
<circle cx="202.9" cy="469.9" r="4.7" fill="url(#g_magenta)"/>
<circle cx="183.0" cy="468.3" r="4.7" fill="url(#g_magenta)"/>
<circle cx="210.1" cy="479.0" r="4.7" fill="url(#g_magenta)"/>
<circle cx="176.4" cy="488.8" r="4.7" fill="url(#g_magenta)"/>
<circle cx="223.4" cy="462.7" r="4.7" fill="url(#g_magenta)"/>
<circle cx="222.8" cy="443.3" r="4.7" fill="url(#g_magenta)"/>
<circle cx="228.5" cy="435.1" r="4.7" fill="url(#g_magenta)"/>
<circle cx="217.2" cy="464.7" r="4.7" fill="url(#g_magenta)"/>
<circle cx="236.5" cy="429.8" r="4.7" fill="url(#g_magenta)"/>
<circle cx="230.0" cy="434.2" r="4.7" fill="url(#g_magenta)"/>
<circle cx="222.1" cy="450.4" r="4.7" fill="url(#g_magenta)"/>
<circle cx="222.5" cy="456.5" r="4.7" fill="url(#g_magenta)"/>
<circle cx="223.8" cy="463.5" r="4.7" fill="url(#g_magenta)"/>
<circle cx="209.8" cy="454.8" r="4.7" fill="url(#g_magenta)"/>
<circle cx="208.9" cy="460.0" r="4.7" fill="url(#g_magenta)"/>
<circle cx="207.6" cy="466.2" r="4.7" fill="url(#g_magenta)"/>
<circle cx="237.0" cy="460.0" r="4.7" fill="url(#g_magenta)"/>
<circle cx="237.0" cy="467.9" r="4.7" fill="url(#g_magenta)"/>
<circle cx="250.5" cy="429.8" r="4.7" fill="url(#g_magenta)"/>
<circle cx="249.7" cy="435.9" r="4.7" fill="url(#g_magenta)"/>
<circle cx="250.5" cy="444.3" r="4.7" fill="url(#g_magenta)"/>
<circle cx="262.8" cy="428.5" r="4.7" fill="url(#g_magenta)"/>
<circle cx="262.8" cy="437.3" r="4.7" fill="url(#g_magenta)"/>
<circle cx="262.6" cy="406.6" r="4.7" fill="url(#g_magenta)"/>
<circle cx="262.6" cy="413.1" r="4.7" fill="url(#g_magenta)"/>
<circle cx="264.4" cy="429.3" r="4.7" fill="url(#g_magenta)"/>
<circle cx="264.4" cy="437.7" r="4.7" fill="url(#g_magenta)"/>
<circle cx="269.6" cy="406.1" r="4.7" fill="url(#g_magenta)"/>
<circle cx="169.6" cy="511.4" r="4.7" fill="url(#g_magenta)"/>
<circle cx="169.6" cy="522.6" r="4.7" fill="url(#g_magenta)"/>
<circle cx="142.5" cy="528.2" r="4.7" fill="url(#g_magenta)"/>
<circle cx="149.6" cy="528.2" r="4.7" fill="url(#g_magenta)"/>
<circle cx="115.6" cy="542.1" r="4.7" fill="url(#g_magenta)"/>
<circle cx="128.8" cy="548.5" r="4.7" fill="url(#g_magenta)"/>
<clipPath id="clip_bl"><rect x="34.7" y="347.3" width="297.2" height="300.09999999999997"/></clipPath>
<line clip-path="url(#clip_bl)" x1="21.8" y1="655.0" x2="309.6" y2="333.8" stroke="#14f014" stroke-width="1.3" stroke-dasharray="4 1.2 1 1.2"/>
<line clip-path="url(#clip_bl)" x1="29.2" y1="661.8" x2="345.1" y2="373.5" stroke="#f81c1c" stroke-width="1.3" stroke-dasharray="4 1.2 1 1.2"/>
<line clip-path="url(#clip_bl)" x1="21.8" y1="661.8" x2="345.1" y2="333.8" stroke="#828282" stroke-width="2"/>
<text x="0" y="0" transform="translate(155.70,415.50)" font-size="8.60" text-anchor="start" textLength="22.50" lengthAdjust="spacingAndGlyphs">+10 %</text>
<text x="0" y="0" transform="translate(272.50,495.20)" font-size="8.60" text-anchor="start" textLength="20.80" lengthAdjust="spacingAndGlyphs">-10 %</text>
<path d="M183.9,409.6 C200.7,398.3 222.7,393.3 245.7,397.7" fill="none" stroke="#808080" stroke-width="1.3"/>
<path d="M250.9,398.5 L244.3,393.1 L245.0,401.5 Z" fill="#808080"/>
<path d="M271.6,485.2 C278.7,474.3 285.3,462.3 284.1,435.3" fill="none" stroke="#808080" stroke-width="1.3"/>
<path d="M282.8,430.6 L279.0,435.7 L288.2,434.9 Z" fill="#808080"/>
<rect x="34.7" y="347.3" width="297.2" height="300.1" fill="none" stroke="#444444" stroke-width="1.3"/>
<line x1="89.1" y1="647.4" x2="89.1" y2="652.0" stroke="#444444" stroke-width="1.2"/>
<line x1="34.7" y1="593.5" x2="30.9" y2="593.5" stroke="#444444" stroke-width="1.2"/>
<text x="0" y="0" transform="translate(89.12,662.00)" font-size="9.30" text-anchor="middle">100</text>
<text x="0" y="0" transform="translate(27.70,596.80) scale(0.8696,1)" font-size="10.58" text-anchor="end">100</text>
<line x1="156.5" y1="647.4" x2="156.5" y2="652.0" stroke="#444444" stroke-width="1.2"/>
<line x1="34.7" y1="524.5" x2="30.9" y2="524.5" stroke="#444444" stroke-width="1.2"/>
<text x="0" y="0" transform="translate(156.49,662.00)" font-size="9.30" text-anchor="middle">150</text>
<text x="0" y="0" transform="translate(27.70,527.80) scale(0.8696,1)" font-size="10.58" text-anchor="end">150</text>
<line x1="223.9" y1="647.4" x2="223.9" y2="652.0" stroke="#444444" stroke-width="1.2"/>
<line x1="34.7" y1="456.5" x2="30.9" y2="456.5" stroke="#444444" stroke-width="1.2"/>
<text x="0" y="0" transform="translate(223.86,662.00)" font-size="9.30" text-anchor="middle">200</text>
<text x="0" y="0" transform="translate(27.70,459.80) scale(0.8696,1)" font-size="10.58" text-anchor="end">200</text>
<line x1="291.2" y1="647.4" x2="291.2" y2="652.0" stroke="#444444" stroke-width="1.2"/>
<line x1="34.7" y1="388.5" x2="30.9" y2="388.5" stroke="#444444" stroke-width="1.2"/>
<text x="0" y="0" transform="translate(291.23,662.00)" font-size="9.30" text-anchor="middle">250</text>
<text x="0" y="0" transform="translate(27.70,391.80) scale(0.8696,1)" font-size="10.58" text-anchor="end">250</text>
<line x1="55.4" y1="647.4" x2="55.4" y2="649.6" stroke="#444444" stroke-width="1.1"/>
<line x1="34.7" y1="627.7" x2="32.5" y2="627.7" stroke="#444444" stroke-width="1.1"/>
<line x1="122.8" y1="647.4" x2="122.8" y2="649.6" stroke="#444444" stroke-width="1.1"/>
<line x1="34.7" y1="559.3" x2="32.5" y2="559.3" stroke="#444444" stroke-width="1.1"/>
<line x1="190.2" y1="647.4" x2="190.2" y2="649.6" stroke="#444444" stroke-width="1.1"/>
<line x1="34.7" y1="491.0" x2="32.5" y2="491.0" stroke="#444444" stroke-width="1.1"/>
<line x1="257.5" y1="647.4" x2="257.5" y2="649.6" stroke="#444444" stroke-width="1.1"/>
<line x1="34.7" y1="422.7" x2="32.5" y2="422.7" stroke="#444444" stroke-width="1.1"/>
<line x1="324.9" y1="647.4" x2="324.9" y2="649.6" stroke="#444444" stroke-width="1.1"/>
<line x1="34.7" y1="354.3" x2="32.5" y2="354.3" stroke="#444444" stroke-width="1.1"/>
<text x="0" y="0" transform="translate(183.30,675.20)" font-size="11.00" text-anchor="middle" textLength="63.00" lengthAdjust="spacingAndGlyphs">Measured_SL</text>
<text x="0" y="0" transform="translate(9.20,497.15) rotate(-90) scale(0.9259,1)" font-size="11.88" text-anchor="middle" textLength="67.50" lengthAdjust="spacingAndGlyphs">Predicted_SL</text>
<rect x="43.7" y="356.6" width="171" height="16.3" fill="#c2c2c2"/>
<rect x="39.7" y="352.6" width="171" height="16.3" fill="#fff" stroke="#5e5e5e" stroke-width="1"/>
<circle cx="53.9" cy="360.7" r="4.6" fill="url(#g_lgreen)"/>
<text x="0" y="0" transform="translate(65.70,363.90) scale(0.9091,1)" font-size="11.33" text-anchor="start" textLength="23.65" lengthAdjust="spacingAndGlyphs">Train</text>
<circle cx="99.2" cy="360.7" r="4.6" fill="url(#g_magenta)"/>
<text x="0" y="0" transform="translate(113.70,363.90) scale(0.9091,1)" font-size="11.33" text-anchor="start" textLength="18.70" lengthAdjust="spacingAndGlyphs">Test</text>
<line x1="132.5" y1="361.0" x2="157.5" y2="361.0" stroke="#777777" stroke-width="2"/>
<text x="0" y="0" transform="translate(159.90,363.90) scale(0.9091,1)" font-size="11.33" text-anchor="start" textLength="52.36" lengthAdjust="spacingAndGlyphs">Center Line</text>
<rect x="243.7" y="583.5" width="33.5" height="16" fill="#c2c2c2"/>
<rect x="239.9" y="579.7" width="33.5" height="16" fill="#fff" stroke="#5e5e5e" stroke-width="1"/>
<text x="0" y="0" transform="translate(256.65,591.50) scale(0.9524,1)" font-size="11.23" text-anchor="middle" textLength="30.03" lengthAdjust="spacingAndGlyphs">RBGE</text>
<rect x="199.4" y="605.3" width="55" height="38.6" fill="#c2c2c2"/>
<rect x="195.6" y="601.5" width="55" height="38.6" fill="#fff" stroke="#5e5e5e" stroke-width="1"/>
<text x="0" y="0" transform="translate(197.40,612.30)" font-size="9.60" text-anchor="start" textLength="19.50" lengthAdjust="spacingAndGlyphs">Train</text>
<text x="0" y="0" transform="translate(197.40,623.90)" font-size="9.60" text-anchor="start" textLength="52.00" lengthAdjust="spacingAndGlyphs">RMSE = 9.22</text>
<text x="197.40" y="636.70" font-size="9.6" textLength="40" lengthAdjust="spacingAndGlyphs">R<tspan font-size="6.2" dy="-4.6">2</tspan><tspan dy="4.6"> = 0.911</tspan></text>
<rect x="267.0" y="605.3" width="55" height="38.6" fill="#c2c2c2"/>
<rect x="263.2" y="601.5" width="55" height="38.6" fill="#fff" stroke="#5e5e5e" stroke-width="1"/>
<text x="0" y="0" transform="translate(265.00,612.30)" font-size="9.60" text-anchor="start" textLength="16.20" lengthAdjust="spacingAndGlyphs">Test</text>
<text x="0" y="0" transform="translate(265.00,623.90)" font-size="9.60" text-anchor="start" textLength="52.00" lengthAdjust="spacingAndGlyphs">RMSE = 8.50</text>
<text x="265.00" y="636.70" font-size="9.6" textLength="40" lengthAdjust="spacingAndGlyphs">R<tspan font-size="6.2" dy="-4.6">2</tspan><tspan dy="4.6"> = 0.915</tspan></text>
<line x1="440.33" y1="347.3" x2="440.33" y2="647.4" stroke="#e2e2e2" stroke-width="1" shape-rendering="crispEdges"/>
<line x1="386.9" y1="593.50" x2="684.5" y2="593.50" stroke="#e2e2e2" stroke-width="1" shape-rendering="crispEdges"/>
<line x1="508.33" y1="347.3" x2="508.33" y2="647.4" stroke="#e2e2e2" stroke-width="1" shape-rendering="crispEdges"/>
<line x1="386.9" y1="524.50" x2="684.5" y2="524.50" stroke="#e2e2e2" stroke-width="1" shape-rendering="crispEdges"/>
<line x1="576.33" y1="347.3" x2="576.33" y2="647.4" stroke="#e2e2e2" stroke-width="1" shape-rendering="crispEdges"/>
<line x1="386.9" y1="456.50" x2="684.5" y2="456.50" stroke="#e2e2e2" stroke-width="1" shape-rendering="crispEdges"/>
<line x1="644.33" y1="347.3" x2="644.33" y2="647.4" stroke="#e2e2e2" stroke-width="1" shape-rendering="crispEdges"/>
<line x1="386.9" y1="388.50" x2="684.5" y2="388.50" stroke="#e2e2e2" stroke-width="1" shape-rendering="crispEdges"/>
<circle cx="657.2" cy="382.0" r="4.7" fill="url(#g_orange)"/>
<circle cx="635.8" cy="388.9" r="4.7" fill="url(#g_orange)"/>
<circle cx="629.1" cy="389.9" r="4.7" fill="url(#g_orange)"/>
<circle cx="623.0" cy="398.6" r="4.7" fill="url(#g_orange)"/>
<circle cx="629.1" cy="397.6" r="4.7" fill="url(#g_orange)"/>
<circle cx="636.3" cy="399.1" r="4.7" fill="url(#g_orange)"/>
<circle cx="630.7" cy="403.7" r="4.7" fill="url(#g_orange)"/>
<circle cx="635.5" cy="390.5" r="4.7" fill="url(#g_orange)"/>
<circle cx="609.2" cy="416.0" r="4.7" fill="url(#g_orange)"/>
<circle cx="630.1" cy="424.5" r="4.7" fill="url(#g_orange)"/>
<circle cx="602.0" cy="423.1" r="4.7" fill="url(#g_orange)"/>
<circle cx="595.8" cy="428.1" r="4.7" fill="url(#g_orange)"/>
<circle cx="601.9" cy="447.0" r="4.7" fill="url(#g_orange)"/>
<circle cx="595.3" cy="439.9" r="4.7" fill="url(#g_orange)"/>
<circle cx="575.8" cy="431.7" r="4.7" fill="url(#g_orange)"/>
<circle cx="569.2" cy="435.8" r="4.7" fill="url(#g_orange)"/>
<circle cx="568.2" cy="446.0" r="4.7" fill="url(#g_orange)"/>
<circle cx="568.2" cy="452.1" r="4.7" fill="url(#g_orange)"/>
<circle cx="583.0" cy="457.7" r="4.7" fill="url(#g_orange)"/>
<circle cx="591.2" cy="446.0" r="4.7" fill="url(#g_orange)"/>
<circle cx="610.1" cy="431.4" r="4.7" fill="url(#g_orange)"/>
<circle cx="601.4" cy="422.6" r="4.7" fill="url(#g_orange)"/>
<circle cx="595.3" cy="441.0" r="4.7" fill="url(#g_orange)"/>
<circle cx="555.3" cy="452.0" r="4.7" fill="url(#g_orange)"/>
<circle cx="549.1" cy="457.1" r="4.7" fill="url(#g_orange)"/>
<circle cx="582.3" cy="463.7" r="4.7" fill="url(#g_orange)"/>
<circle cx="575.7" cy="476.0" r="4.7" fill="url(#g_orange)"/>
<circle cx="569.0" cy="470.9" r="4.7" fill="url(#g_orange)"/>
<circle cx="535.3" cy="480.1" r="4.7" fill="url(#g_orange)"/>
<circle cx="541.5" cy="477.0" r="4.7" fill="url(#g_orange)"/>
<circle cx="548.1" cy="478.5" r="4.7" fill="url(#g_orange)"/>
<circle cx="556.3" cy="480.1" r="4.7" fill="url(#g_orange)"/>
<circle cx="562.4" cy="486.7" r="4.7" fill="url(#g_orange)"/>
<circle cx="541.5" cy="483.1" r="4.7" fill="url(#g_orange)"/>
<circle cx="549.3" cy="487.4" r="4.7" fill="url(#g_orange)"/>
<circle cx="535.0" cy="494.5" r="4.7" fill="url(#g_orange)"/>
<circle cx="542.1" cy="494.5" r="4.7" fill="url(#g_orange)"/>
<circle cx="539.0" cy="489.9" r="4.7" fill="url(#g_orange)"/>
<circle cx="542.6" cy="503.7" r="4.7" fill="url(#g_orange)"/>
<circle cx="508.4" cy="511.9" r="4.7" fill="url(#g_orange)"/>
<circle cx="559.5" cy="487.4" r="4.7" fill="url(#g_orange)"/>
<circle cx="481.3" cy="563.2" r="4.7" fill="url(#g_orange)"/>
<circle cx="441.1" cy="581.0" r="4.7" fill="url(#g_orange)"/>
<circle cx="433.9" cy="595.5" r="4.7" fill="url(#g_orange)"/>
<circle cx="436.4" cy="598.1" r="4.7" fill="url(#g_orange)"/>
<circle cx="657.4" cy="380.2" r="4.7" fill="url(#g_mint)"/>
<circle cx="643.5" cy="387.3" r="4.7" fill="url(#g_mint)"/>
<circle cx="643.9" cy="409.3" r="4.7" fill="url(#g_mint)"/>
<circle cx="616.3" cy="405.3" r="4.7" fill="url(#g_mint)"/>
<circle cx="623.5" cy="407.3" r="4.7" fill="url(#g_mint)"/>
<circle cx="609.2" cy="411.4" r="4.7" fill="url(#g_mint)"/>
<circle cx="615.8" cy="413.4" r="4.7" fill="url(#g_mint)"/>
<circle cx="623.5" cy="420.1" r="4.7" fill="url(#g_mint)"/>
<circle cx="615.3" cy="424.7" r="4.7" fill="url(#g_mint)"/>
<circle cx="622.8" cy="406.6" r="4.7" fill="url(#g_mint)"/>
<circle cx="616.2" cy="433.7" r="4.7" fill="url(#g_mint)"/>
<circle cx="610.1" cy="427.6" r="4.7" fill="url(#g_mint)"/>
<circle cx="589.6" cy="420.9" r="4.7" fill="url(#g_mint)"/>
<circle cx="589.6" cy="429.6" r="4.7" fill="url(#g_mint)"/>
<circle cx="601.9" cy="434.7" r="4.7" fill="url(#g_mint)"/>
<circle cx="588.6" cy="433.7" r="4.7" fill="url(#g_mint)"/>
<circle cx="582.0" cy="440.4" r="4.7" fill="url(#g_mint)"/>
<circle cx="574.8" cy="445.0" r="4.7" fill="url(#g_mint)"/>
<circle cx="563.1" cy="455.7" r="4.7" fill="url(#g_mint)"/>
<circle cx="589.6" cy="455.2" r="4.7" fill="url(#g_mint)"/>
<circle cx="581.5" cy="451.1" r="4.7" fill="url(#g_mint)"/>
<circle cx="590.9" cy="430.5" r="4.7" fill="url(#g_mint)"/>
<circle cx="590.9" cy="455.0" r="4.7" fill="url(#g_mint)"/>
<circle cx="603.1" cy="435.8" r="4.7" fill="url(#g_mint)"/>
<circle cx="608.4" cy="425.3" r="4.7" fill="url(#g_mint)"/>
<circle cx="575.2" cy="445.3" r="4.7" fill="url(#g_mint)"/>
<circle cx="581.3" cy="440.2" r="4.7" fill="url(#g_mint)"/>
<circle cx="562.4" cy="455.5" r="4.7" fill="url(#g_mint)"/>
<circle cx="561.4" cy="460.1" r="4.7" fill="url(#g_mint)"/>
<circle cx="554.7" cy="466.3" r="4.7" fill="url(#g_mint)"/>
<circle cx="554.2" cy="471.9" r="4.7" fill="url(#g_mint)"/>
<circle cx="575.2" cy="455.5" r="4.7" fill="url(#g_mint)"/>
<circle cx="577.2" cy="466.8" r="4.7" fill="url(#g_mint)"/>
<circle cx="587.4" cy="455.5" r="4.7" fill="url(#g_mint)"/>
<circle cx="587.4" cy="464.7" r="4.7" fill="url(#g_mint)"/>
<circle cx="535.3" cy="470.9" r="4.7" fill="url(#g_mint)"/>
<circle cx="528.7" cy="488.2" r="4.7" fill="url(#g_mint)"/>
<circle cx="528.3" cy="490.4" r="4.7" fill="url(#g_mint)"/>
<circle cx="521.7" cy="517.5" r="4.7" fill="url(#g_mint)"/>
<circle cx="555.4" cy="473.1" r="4.7" fill="url(#g_mint)"/>
<circle cx="535.0" cy="471.5" r="4.7" fill="url(#g_mint)"/>
<circle cx="494.7" cy="532.8" r="4.7" fill="url(#g_mint)"/>
<circle cx="501.5" cy="535.0" r="4.7" fill="url(#g_mint)"/>
<circle cx="467.9" cy="548.6" r="4.7" fill="url(#g_mint)"/>
<circle cx="481.3" cy="556.2" r="4.7" fill="url(#g_mint)"/>
<circle cx="566.9" cy="464.1" r="4.7" fill="url(#g_mint)"/>
<circle cx="575.7" cy="467.7" r="4.7" fill="url(#g_mint)"/>
<circle cx="574.2" cy="453.1" r="4.7" fill="url(#g_mint)"/>
<circle cx="574.2" cy="459.0" r="4.7" fill="url(#g_mint)"/>
<circle cx="561.8" cy="467.7" r="4.7" fill="url(#g_mint)"/>
<circle cx="566.9" cy="470.7" r="4.7" fill="url(#g_mint)"/>
<circle cx="569.0" cy="458.0" r="4.7" fill="url(#g_mint)"/>
<circle cx="581.5" cy="448.8" r="4.7" fill="url(#g_mint)"/>
<circle cx="574.6" cy="445.1" r="4.7" fill="url(#g_mint)"/>
<circle cx="588.4" cy="464.1" r="4.7" fill="url(#g_mint)"/>
<circle cx="588.1" cy="455.3" r="4.7" fill="url(#g_mint)"/>
<circle cx="554.5" cy="472.1" r="4.7" fill="url(#g_mint)"/>
<clipPath id="clip_br"><rect x="386.85" y="347.3" width="297.65" height="300.09999999999997"/></clipPath>
<line clip-path="url(#clip_br)" x1="372.3" y1="655.0" x2="662.9" y2="333.8" stroke="#14f014" stroke-width="1.3" stroke-dasharray="4 1.2 1 1.2"/>
<line clip-path="url(#clip_br)" x1="379.9" y1="661.8" x2="698.7" y2="373.5" stroke="#f81c1c" stroke-width="1.3" stroke-dasharray="4 1.2 1 1.2"/>
<line clip-path="url(#clip_br)" x1="372.3" y1="661.8" x2="698.7" y2="333.8" stroke="#828282" stroke-width="2"/>
<text x="0" y="0" transform="translate(507.85,415.50)" font-size="8.60" text-anchor="start" textLength="22.50" lengthAdjust="spacingAndGlyphs">+10 %</text>
<text x="0" y="0" transform="translate(624.65,495.20)" font-size="8.60" text-anchor="start" textLength="20.80" lengthAdjust="spacingAndGlyphs">-10 %</text>
<path d="M536.0,409.6 C552.9,398.3 574.9,393.3 597.9,397.7" fill="none" stroke="#808080" stroke-width="1.3"/>
<path d="M603.0,398.5 L596.5,393.1 L597.2,401.5 Z" fill="#808080"/>
<path d="M623.8,485.2 C630.9,474.3 637.5,462.3 636.2,435.3" fill="none" stroke="#808080" stroke-width="1.3"/>
<path d="M635.0,430.6 L631.2,435.7 L640.4,434.9 Z" fill="#808080"/>
<rect x="386.85" y="347.3" width="297.6" height="300.1" fill="none" stroke="#444444" stroke-width="1.3"/>
<line x1="440.3" y1="647.4" x2="440.3" y2="652.0" stroke="#444444" stroke-width="1.2"/>
<line x1="386.9" y1="593.5" x2="383.1" y2="593.5" stroke="#444444" stroke-width="1.2"/>
<text x="0" y="0" transform="translate(440.33,662.00)" font-size="9.30" text-anchor="middle">100</text>
<text x="0" y="0" transform="translate(379.85,596.80) scale(0.8696,1)" font-size="10.58" text-anchor="end">100</text>
<line x1="508.3" y1="647.4" x2="508.3" y2="652.0" stroke="#444444" stroke-width="1.2"/>
<line x1="386.9" y1="524.5" x2="383.1" y2="524.5" stroke="#444444" stroke-width="1.2"/>
<text x="0" y="0" transform="translate(508.33,662.00)" font-size="9.30" text-anchor="middle">150</text>
<text x="0" y="0" transform="translate(379.85,527.80) scale(0.8696,1)" font-size="10.58" text-anchor="end">150</text>
<line x1="576.3" y1="647.4" x2="576.3" y2="652.0" stroke="#444444" stroke-width="1.2"/>
<line x1="386.9" y1="456.5" x2="383.1" y2="456.5" stroke="#444444" stroke-width="1.2"/>
<text x="0" y="0" transform="translate(576.33,662.00)" font-size="9.30" text-anchor="middle">200</text>
<text x="0" y="0" transform="translate(379.85,459.80) scale(0.8696,1)" font-size="10.58" text-anchor="end">200</text>
<line x1="644.3" y1="647.4" x2="644.3" y2="652.0" stroke="#444444" stroke-width="1.2"/>
<line x1="386.9" y1="388.5" x2="383.1" y2="388.5" stroke="#444444" stroke-width="1.2"/>
<text x="0" y="0" transform="translate(644.33,662.00)" font-size="9.30" text-anchor="middle">250</text>
<text x="0" y="0" transform="translate(379.85,391.80) scale(0.8696,1)" font-size="10.58" text-anchor="end">250</text>
<line x1="406.3" y1="647.4" x2="406.3" y2="649.6" stroke="#444444" stroke-width="1.1"/>
<line x1="386.9" y1="627.7" x2="384.7" y2="627.7" stroke="#444444" stroke-width="1.1"/>
<line x1="474.3" y1="647.4" x2="474.3" y2="649.6" stroke="#444444" stroke-width="1.1"/>
<line x1="386.9" y1="559.3" x2="384.7" y2="559.3" stroke="#444444" stroke-width="1.1"/>
<line x1="542.3" y1="647.4" x2="542.3" y2="649.6" stroke="#444444" stroke-width="1.1"/>
<line x1="386.9" y1="491.0" x2="384.7" y2="491.0" stroke="#444444" stroke-width="1.1"/>
<line x1="610.3" y1="647.4" x2="610.3" y2="649.6" stroke="#444444" stroke-width="1.1"/>
<line x1="386.9" y1="422.7" x2="384.7" y2="422.7" stroke="#444444" stroke-width="1.1"/>
<line x1="678.3" y1="647.4" x2="678.3" y2="649.6" stroke="#444444" stroke-width="1.1"/>
<line x1="386.9" y1="354.3" x2="384.7" y2="354.3" stroke="#444444" stroke-width="1.1"/>
<text x="0" y="0" transform="translate(535.67,675.20)" font-size="11.00" text-anchor="middle" textLength="63.00" lengthAdjust="spacingAndGlyphs">Measured_SL</text>
<text x="0" y="0" transform="translate(361.35,497.15) rotate(-90) scale(0.9259,1)" font-size="11.88" text-anchor="middle" textLength="67.50" lengthAdjust="spacingAndGlyphs">Predicted_SL</text>
<rect x="395.9" y="356.6" width="171" height="16.3" fill="#c2c2c2"/>
<rect x="391.9" y="352.6" width="171" height="16.3" fill="#fff" stroke="#5e5e5e" stroke-width="1"/>
<circle cx="406.1" cy="360.7" r="4.6" fill="url(#g_orange)"/>
<text x="0" y="0" transform="translate(417.85,363.90) scale(0.9091,1)" font-size="11.33" text-anchor="start" textLength="23.65" lengthAdjust="spacingAndGlyphs">Train</text>
<circle cx="451.4" cy="360.7" r="4.6" fill="url(#g_mint)"/>
<text x="0" y="0" transform="translate(465.85,363.90) scale(0.9091,1)" font-size="11.33" text-anchor="start" textLength="18.70" lengthAdjust="spacingAndGlyphs">Test</text>
<line x1="484.7" y1="361.0" x2="509.7" y2="361.0" stroke="#777777" stroke-width="2"/>
<text x="0" y="0" transform="translate(512.05,363.90) scale(0.9091,1)" font-size="11.33" text-anchor="start" textLength="52.36" lengthAdjust="spacingAndGlyphs">Center Line</text>
<rect x="596.3" y="583.5" width="34.3" height="16" fill="#c2c2c2"/>
<rect x="592.5" y="579.7" width="34.3" height="16" fill="#fff" stroke="#5e5e5e" stroke-width="1"/>
<text x="0" y="0" transform="translate(609.65,591.50) scale(0.9524,1)" font-size="11.23" text-anchor="middle" textLength="31.29" lengthAdjust="spacingAndGlyphs">RBDA</text>
<rect x="552.0" y="605.3" width="55" height="38.6" fill="#c2c2c2"/>
<rect x="548.2" y="601.5" width="55" height="38.6" fill="#fff" stroke="#5e5e5e" stroke-width="1"/>
<text x="0" y="0" transform="translate(550.00,612.30)" font-size="9.60" text-anchor="start" textLength="19.50" lengthAdjust="spacingAndGlyphs">Train</text>
<text x="0" y="0" transform="translate(550.00,623.90)" font-size="9.60" text-anchor="start" textLength="52.00" lengthAdjust="spacingAndGlyphs">RMSE = 7.93</text>
<text x="550.00" y="636.70" font-size="9.6" textLength="40" lengthAdjust="spacingAndGlyphs">R<tspan font-size="6.2" dy="-4.6">2</tspan><tspan dy="4.6"> = 0.928</tspan></text>
<rect x="619.6" y="605.3" width="55" height="38.6" fill="#c2c2c2"/>
<rect x="615.8" y="601.5" width="55" height="38.6" fill="#fff" stroke="#5e5e5e" stroke-width="1"/>
<text x="0" y="0" transform="translate(617.60,612.30)" font-size="9.60" text-anchor="start" textLength="16.20" lengthAdjust="spacingAndGlyphs">Test</text>
<text x="0" y="0" transform="translate(617.60,623.90)" font-size="9.60" text-anchor="start" textLength="52.00" lengthAdjust="spacingAndGlyphs">RMSE = 7.38</text>
<text x="617.60" y="636.70" font-size="9.6" textLength="40" lengthAdjust="spacingAndGlyphs">R<tspan font-size="6.2" dy="-4.6">2</tspan><tspan dy="4.6"> = 0.936</tspan></text>
</svg></body></html>
